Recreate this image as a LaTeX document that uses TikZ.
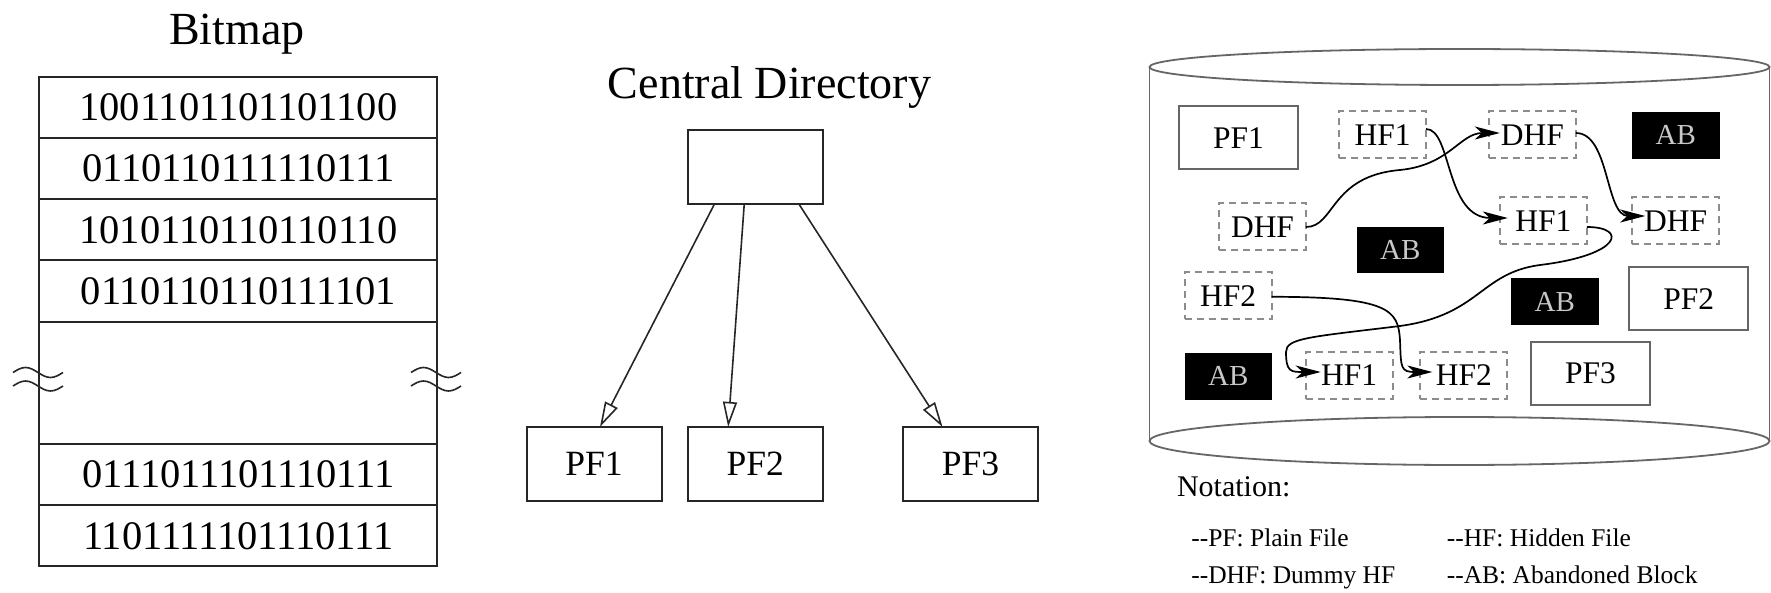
\documentclass[tikz,border=0pt]{standalone}
\usepackage{fontspec}
\setmainfont{Liberation Serif}
\usetikzlibrary{arrows.meta}
\newcommand{\fsz}[1]{\fontsize{#1pt}{#1pt}\selectfont}
\definecolor{boxgray}{HTML}{666666}
\definecolor{dashgray}{HTML}{8C8C8C}
\definecolor{abtext}{HTML}{C8C8C8}
\tikzset{
  every node/.style={inner sep=0pt, outer sep=0pt},
  heading/.style={anchor=base, font=\fsz{46}},
  bitcell/.style={draw=black!85, line width=2pt, minimum width=398pt, minimum height=61.2pt, font=\fsz{40.5}},
  dirbox/.style={draw=black!85, line width=2pt, minimum height=74pt, minimum width=135pt, font=\fsz{35.5}},
  dirlink/.style={draw=black!85, line width=1.6pt, -{Triangle[open, length=25pt, width=14pt]}},
  wave/.style={black!85, line width=1.6pt},
  disk/.style={draw=boxgray, line width=1.8pt},
  plainf/.style={draw=boxgray, line width=2pt, minimum width=119pt, minimum height=63pt, font=\fsz{31.5}},
  hiddenf/.style={draw=dashgray, line width=2pt, dash pattern=on 7pt off 5pt, minimum width=87pt, minimum height=47pt, font=\fsz{31.5}},
  abandoned/.style={fill=black, text=abtext, minimum width=87.5pt, minimum height=46.5pt, font=\fsz{29}},
  chain/.style={draw=black, line width=1.7pt, -{Stealth[length=25pt, width=13pt, inset=7pt]}},
  notehead/.style={anchor=base west, font=\fsz{30}},
  noteitem/.style={anchor=base west, font=\fsz{25.5}},
}
\begin{document}
\begin{tikzpicture}[x=1pt, y=-1pt]
\fill[white] (0,0) rectangle (1771,593);
\useasboundingbox (0,0) rectangle (1771,593);

% ---- bitmap table ----
\node[heading] (bmtitle) at (237,44.6) {Bitmap};
\node[bitcell] (r1) at (238.3,107.4) {1001101101101100};
\node[bitcell] (r2) at (238.3,168.6) {0110110111110111};
\node[bitcell] (r3) at (238.3,229.8) {1010110110110110};
\node[bitcell] (r4) at (238.3,291.0) {0110110110111101};
\node[bitcell, minimum height=122.4pt] (rgap) at (238.3,382.8) {};
\node[bitcell] (r6) at (238.3,474.6) {0111011101110111};
\node[bitcell] (r7) at (238.3,535.8) {1101111101110111};
% break marks on both sides of the elided rows
\foreach \wx in {13,411} \foreach \wy in {372.5,386}
  \draw[wave] (\wx,\wy) sin ++(12.5,-5) cos ++(12.5,5) sin ++(12.5,5) cos ++(12.5,-5);

% ---- central directory ----
\node[heading] (cdtitle) at (769.5,98.3) {Central Directory};
\node[dirbox] (cdir) at (755.2,167.5) {};
\node[dirbox] (cpf1) at (594,463.9) {PF1};
\node[dirbox] (cpf2) at (755.2,463.9) {PF2};
\node[dirbox] (cpf3) at (970.5,463.9) {PF3};
\draw[dirlink] ([xshift=-41pt]cdir.south) -- ([xshift=6pt]cpf1.north);
\draw[dirlink] ([xshift=-11pt]cdir.south) -- ([xshift=-27pt]cpf2.north);
\draw[dirlink] ([xshift=44pt]cdir.south) -- ([xshift=-28pt]cpf3.north);

% ---- disk volume ----
\draw[disk] (1459.5,67) ellipse [x radius=310pt, y radius=18pt];
\draw[disk] (1149.5,67) -- (1149.5,441);
\draw[disk] (1769.5,67) -- (1769.5,441);
\draw[disk] (1459.5,441) ellipse [x radius=310pt, y radius=24pt];

\node[plainf] (pfA) at (1238.5,137.9) {PF1};
\node[hiddenf] (hfA) at (1382.5,135) {HF1};
\node[hiddenf] (dhfA) at (1532.3,135) {DHF};
\node[abandoned] (abA) at (1675.8,135.3) {AB};
\node[hiddenf] (dhfB) at (1262.5,227) {DHF};
\node[abandoned] (abB) at (1400.3,250) {AB};
\node[hiddenf] (hfB) at (1543.3,221) {HF1};
\node[hiddenf] (dhfC) at (1675.7,221) {DHF};
\node[hiddenf] (hfC) at (1228.2,295.8) {HF2};
\node[abandoned] (abC) at (1554.8,301.7) {AB};
\node[plainf] (pfB) at (1688.7,298.7) {PF2};
\node[abandoned] (abD) at (1228.3,376.3) {AB};
\node[hiddenf] (hfD) at (1349.2,375) {HF1};
\node[hiddenf] (hfE) at (1463.8,375) {HF2};
\node[plainf] (pfC) at (1590.5,373) {PF3};

% block chains
\draw[chain] ([yshift=6pt]hfA.east) .. controls +(26,0) and +(-63,0) .. ([xshift=8pt,yshift=3pt]hfB.west);
\draw[chain] (dhfB.east) .. controls +(29,0) and +(-70,6) .. (1400,170)
  .. controls +(50,-5) and +(-40,0) .. ([xshift=11pt,yshift=2pt]dhfA.west);
\draw[chain] ([yshift=2pt]dhfA.east) .. controls +(34,0) and +(-40,0) .. ([xshift=13pt,yshift=5pt]dhfC.west);
\draw[chain] ([yshift=-6pt]hfB.east) .. controls +(41,0) and +(82,-10) .. (1540,265)
  .. controls +(-60,8) and +(80,-11) .. (1400,326)
  .. controls +(-90,11) and +(0,-14) .. (1286,352)
  .. controls +(0,20) and +(-30,0) .. ([xshift=15pt,yshift=3pt]hfD.west);
\draw[chain] ([yshift=-1pt]hfC.east) .. controls +(118,0) and +(-2,-30) .. (1400,340)
  .. controls +(1,28) and +(-32,0) .. ([xshift=12pt,yshift=3pt]hfE.west);

% ---- legend ----
\node[notehead] (nhead) at (1177,496.7) {Notation:};
\node[noteitem] (npf) at (1191.3,546.7) {-{}-PF: Plain File};
\node[noteitem] (nhf) at (1446.8,546.7) {-{}-HF: Hidden File};
\node[noteitem] (ndhf) at (1191.3,583) {-{}-DHF: Dummy HF};
\node[noteitem] (nab) at (1446.8,583) {-{}-AB: Abandoned Block};
\end{tikzpicture}
\end{document}
